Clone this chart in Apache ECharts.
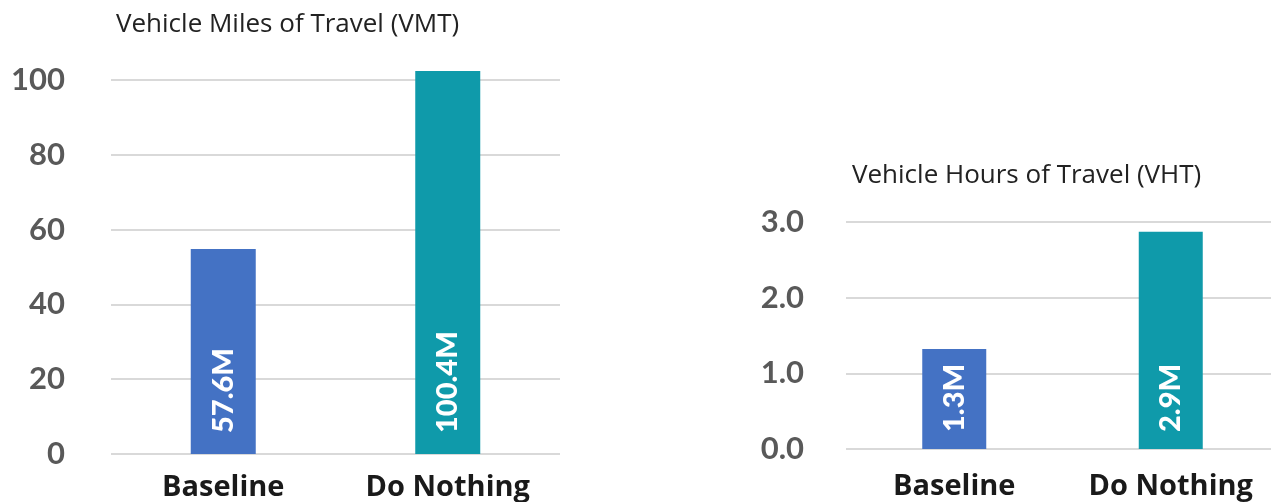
<!DOCTYPE html>
<html>
<head>
<meta charset="utf-8">
<script src="https://cdn.jsdelivr.net/npm/echarts@6/dist/echarts.min.js"></script>
<style>
html,body{margin:0;padding:0;background:#fff;}
#c{width:1271px;height:502px;}
</style>
</head>
<body>
<div id="c"></div>
<script>
const categories = ['Baseline', 'Do Nothing'];
const barColors = ['#4472C4', '#0F9AAA'];

const vmtTitle = 'Vehicle Miles of Travel (VMT)';
const vmtValues = [54.8, 102.4];
const vmtLabels = ['57.6M', '100.4M'];
const vmtTicks = [0, 20, 40, 60, 80, 100];

const vhtTitle = 'Vehicle Hours of Travel (VHT)';
const vhtValues = [1.32, 2.87];
const vhtLabels = ['1.3M', '2.9M'];
const vhtTicks = ['0.0', '1.0', '2.0', '3.0'];

const chart = echarts.init(document.getElementById('c'), null, {renderer: 'canvas'});

function yAxis(gridIndex, ticks, margin, fmt) {
  const nums = ticks.map(Number);
  return {
    type: 'value', gridIndex,
    min: nums[0], max: nums[nums.length - 1], interval: nums[1] - nums[0],
    axisLine: {show: false}, axisTick: {show: false},
    splitLine: {lineStyle: {color: '#d9d9d9', width: 2}},
    axisLabel: {color: '#595959', fontFamily: 'Lato', fontWeight: 'bold', fontSize: 31, margin, formatter: fmt}
  };
}
function xAxis(gridIndex, margin) {
  return {
    type: 'category', gridIndex, data: categories,
    axisLine: {show: false}, axisTick: {show: false},
    axisLabel: {interval: 0, hideOverlap: false, color: '#1a1a1a', fontFamily: 'Open Sans', fontWeight: 'bold', fontSize: 29, margin}
  };
}
function series(i, values, labels, width, dist) {
  return {
    type: 'bar', xAxisIndex: i, yAxisIndex: i, barWidth: width, clip: false,
    data: values.map((v, k) => ({value: v, itemStyle: {color: barColors[k]}})),
    label: {
      show: true, position: 'insideBottom', distance: dist, rotate: 90,
      align: 'left', verticalAlign: 'middle',
      color: '#fff', fontFamily: 'Lato', fontWeight: 900, fontSize: 29,
      formatter: p => labels[p.dataIndex]
    }
  };
}

chart.setOption({
  animation: false,
  title: [
    {text: vmtTitle, left: 111, top: 7, textStyle: {fontFamily: 'Open Sans', fontWeight: 'normal', fontSize: 26, color: '#222'}},
    {text: vhtTitle, left: 847, top: 158, textStyle: {fontFamily: 'Open Sans', fontWeight: 'normal', fontSize: 26, color: '#222'}}
  ],
  grid: [
    {left: 111, right: 711, top: 80, bottom: 48, outerBoundsMode: 'none', containLabel: false},
    {left: 846, right: -8, top: 222, bottom: 53, outerBoundsMode: 'none', containLabel: false}
  ],
  xAxis: [xAxis(0, 19), xAxis(1, 23)],
  yAxis: [
    yAxis(0, vmtTicks, 46, v => String(v)),
    yAxis(1, vhtTicks, 42, v => Number(v).toFixed(1))
  ],
  series: [
    series(0, vmtValues, vmtLabels, 65, 21),
    series(1, vhtValues, vhtLabels, 64, 17)
  ]
});
</script>
</body>
</html>
